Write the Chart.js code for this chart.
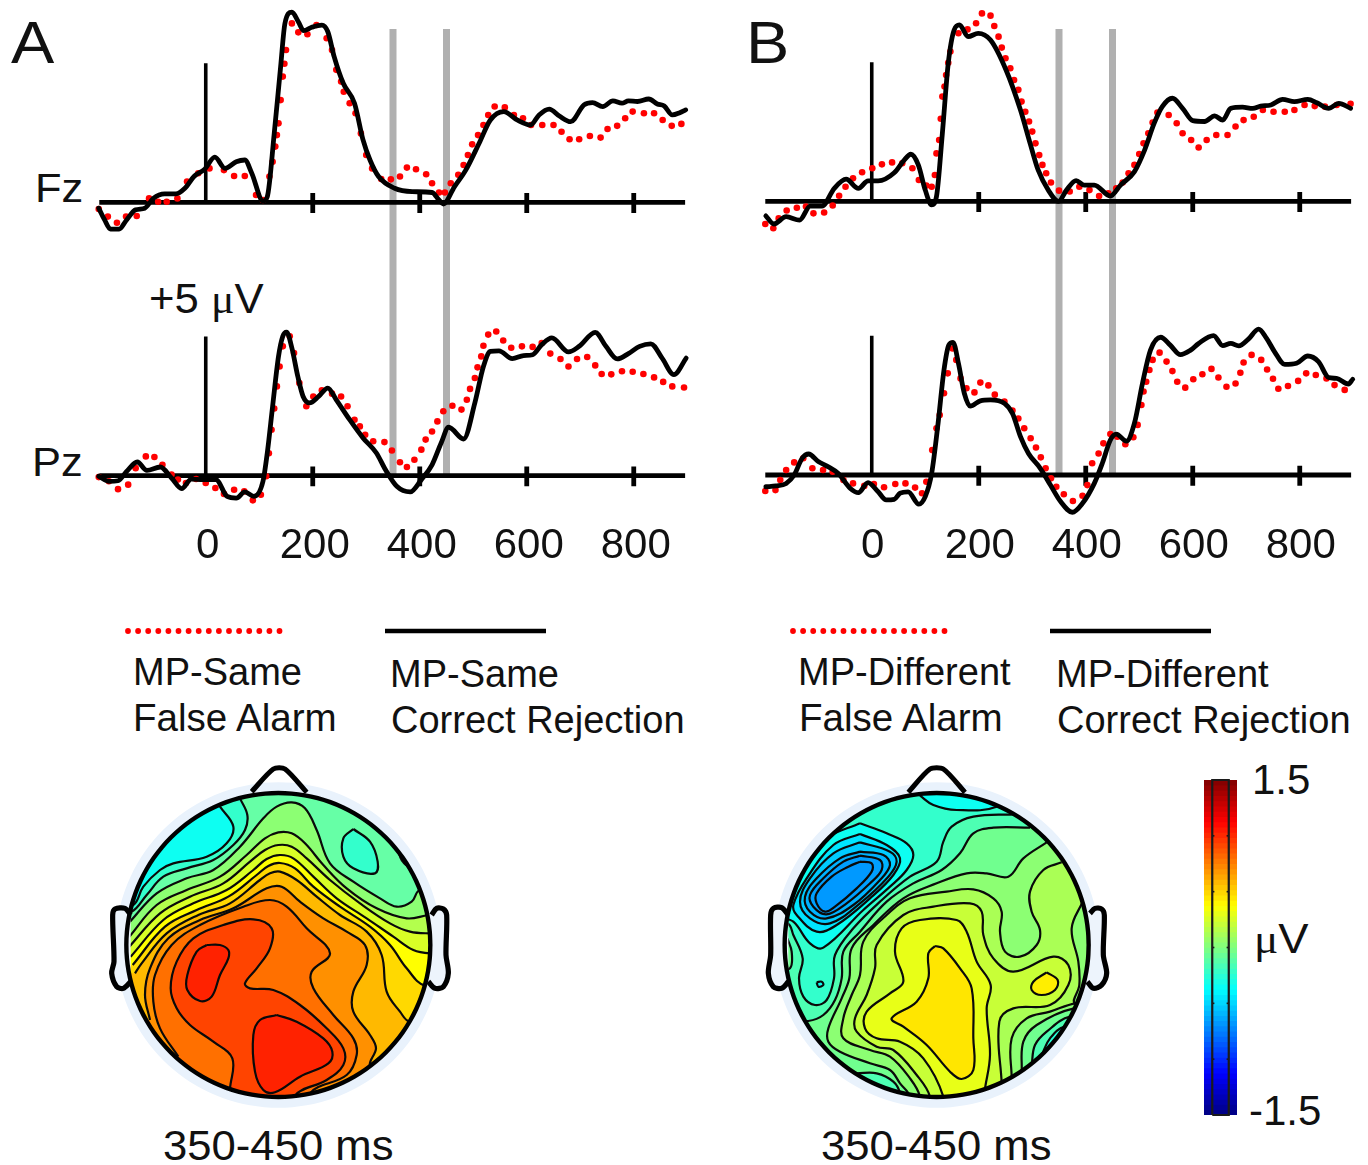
<!DOCTYPE html>
<html>
<head>
<meta charset="utf-8">
<title>ERP and scalp maps</title>
<script src="https://cdn.jsdelivr.net/npm/chart.js@4/dist/chart.umd.js"></script>
<style>
  html, body { margin: 0; background: #fff; }
  #page { position: relative; width: 1368px; height: 1165px; overflow: hidden; font-family: "Liberation Sans", sans-serif; color: #111; }
  canvas { position: absolute; }
  .t { position: absolute; line-height: 1; white-space: nowrap; transform-origin: left center; }
  .mu { font-family: "Liberation Serif", serif; }
</style>
</head>
<body>
<div id="page">
  <div class="t" style="left:11px;top:14px;font-size:59px;transform:scaleX(1.1)">A</div>
  <div class="t" style="left:746px;top:14px;font-size:59px;transform:scaleX(1.1)">B</div>
  <div class="t" style="left:35px;top:168px;font-size:41px;transform:scaleX(1.06)">Fz</div>
  <div class="t" style="left:32px;top:442px;font-size:41px;transform:scaleX(1.06)">Pz</div>
  <div class="t" style="left:149px;top:278px;font-size:42px;transform:scaleX(1.04)">+5 <span class="mu">μ</span>V</div>

  <div class="t" style="left:133px;top:653px;font-size:38px">MP-Same</div>
  <div class="t" style="left:133px;top:699px;font-size:38px;transform:scaleX(1.015)">False Alarm</div>
  <div class="t" style="left:390px;top:655px;font-size:38px">MP-Same</div>
  <div class="t" style="left:391px;top:701px;font-size:38px">Correct Rejection</div>
  <div class="t" style="left:798px;top:653px;font-size:38px">MP-Different</div>
  <div class="t" style="left:799px;top:699px;font-size:38px;transform:scaleX(1.015)">False Alarm</div>
  <div class="t" style="left:1056px;top:655px;font-size:38px">MP-Different</div>
  <div class="t" style="left:1057px;top:701px;font-size:38px">Correct Rejection</div>

  <div class="t" style="left:163px;top:1124px;font-size:43px;transform:scaleX(1.015)">350-450 ms</div>
  <div class="t" style="left:821px;top:1124px;font-size:43px;transform:scaleX(1.015)">350-450 ms</div>
  <div class="t" style="left:1252px;top:759px;font-size:42px">1.5</div>
  <div class="t" style="left:1254px;top:918px;font-size:42px;transform:scaleX(1.08)"><span class="mu">μ</span>V</div>
  <div class="t" style="left:1249px;top:1090px;font-size:42px">-1.5</div>
</div>
<script>
// x axis
const xTicks = [0, 200, 400, 600, 800]
const windowMs = [350, 450]

// Panel A, Fz
const aFzCrT = [-200,-189,-178,-162,-148,-131,-114,-98,-77,-56,-39,-22,-2,17,36,57,73,86,107,115,128,140,148,161,173,183,198,217,228,240,257,278,294,307,323,353,386,423,436,444,465,486,511,532,557,582,607,623,642,661,682,707,723,742,761,778,790,807,828,844,857,872,886,897]
const aFzCrV = [-.21,-.63,-.96,-.96,-.63,-.27,-.21,.14,.30,.30,.50,.92,1.18,1.61,1.21,1.45,1.51,1.04,.05,.20,2.46,4.85,6.39,6.79,6.45,6.13,6.25,6.33,6.10,5.20,4.25,3.54,2.23,1.51,.92,.50,.38,.35,.08,-.06,.56,1.15,2.11,2.94,3.24,2.94,2.76,3.12,3.33,3.08,2.88,3.48,3.56,3.42,3.62,3.54,3.62,3.60,3.69,3.51,3.44,3.12,3.20,3.30]
const aFzFaT = [-200,-183,-166,-149,-129,-106,-89,-73,-53,-35,-14,7,34,53,73,94,107,119,125,130,133,136,140,144,147,150,161,173,190,207,226,236,244,253,258,269,280,290,300,311,328,346,363,376,393,412,423,436,447,458,472,482,490,498,509,519,528,540,559,576,593,608,629,650,665,680,698,718,738,751,769,784,798,819,838,854,871,889]
const aFzFaV = [-.24,-.51,-.73,-.51,-.49,.14,.02,.02,.14,.74,1.04,1.21,1.15,.94,.94,.26,.08,.92,1.45,1.99,2.4,2.82,3.65,4.49,4.95,5.44,6.39,6.07,6.0,6.33,5.86,5.44,4.73,4.31,3.95,3.54,3.18,2.46,1.69,1.21,.83,.82,.92,1.24,1.18,1.0,.68,.35,.35,.68,.98,1.33,1.69,2.07,2.40,2.76,3.12,3.42,3.39,3.12,3.0,2.76,2.76,2.76,2.52,2.25,2.25,2.37,2.31,2.62,2.73,3.0,3.24,3.18,3.18,2.94,2.73,2.80]

// Panel A, Pz
const aPzCrT = [-200,-181,-164,-148,-128,-110,-85,-64,-45,-27,-6,19,40,57,73,90,107,115,125,136,144,151,161,172,182,194,211,228,244,269,294,319,336,357,382,403,423,440,454,482,503,519,532,548,573,594,611,628,647,678,698,728,748,769,790,811,832,853,875,898]
const aPzCrV = [-.02,-.20,-.18,.15,.49,.19,.31,-.08,-.46,-.12,-.14,-.14,-.74,-.80,-.58,-.74,-.20,.81,2.48,4.26,4.98,5.13,4.56,3.55,2.83,2.60,2.83,3.13,2.71,2.0,1.35,.81,.21,-.38,-.58,-.14,.39,1.17,1.73,1.31,2.60,3.90,4.44,4.46,4.18,4.29,4.32,4.68,4.92,4.42,4.62,5.12,4.62,4.17,4.36,4.62,4.71,4.20,3.61,4.20]
const aPzFaT = [-200,-181,-164,-145,-131,-112,-96,-81,-64,-52,-37,-18,0,18,34,53,72,88,103,113,118,123,128,133,138,144,157,165,175,188,201,217,236,253,265,278,288,298,313,334,348,363,376,390,403,411,423,433,444,461,478,488,494,503,508,515,519,528,543,556,571,591,611,628,644,663,678,694,713,728,740,758,778,798,818,838,855,872,894]
const aPzFaV = [-.05,-.2,-.48,-.32,.27,.69,.67,.39,.04,-.14,-.26,-.12,-.26,-.44,-.65,-.5,-.56,-.88,-.68,-.02,.8,1.64,2.4,3.19,3.9,4.62,4.98,4.38,3.31,2.48,2.83,3.05,2.93,2.83,2.48,2.0,1.76,1.46,1.23,1.20,.90,.48,.31,.57,.93,1.29,1.58,1.94,2.30,2.5,2.36,2.71,3.10,3.49,3.87,4.26,4.64,5.04,5.15,4.83,4.57,4.62,4.60,4.74,4.36,4.17,3.90,4.17,4.24,3.94,3.63,3.62,3.73,3.71,3.63,3.51,3.35,3.19,3.15]

// Panel B, Fz
const bFzCrT = [-198,-183,-160,-135,-115,-93,-70,-48,-25,-7,12,42,61,73,87,100,112,121,132,143,154,164,180,199,222,251,278,296,311,330,349,364,382,397,416,446,465,491,510,528,543,562,581,600,622,641,656,671,693,712,727,746,768,790,815,832,854,873,895]
const bFzCrV = [-.52,-.81,-.55,-.67,-.17,-.17,.46,.79,.46,.73,.73,1.02,1.48,1.68,1.30,.40,-.13,.17,2.43,4.93,6.12,6.30,5.88,6.0,5.76,4.69,3.26,2.07,1.12,.40,0,.40,.74,.58,.58,.19,.58,1.06,1.83,2.79,3.38,3.68,3.32,2.88,2.85,3.05,2.90,3.32,3.36,3.32,3.40,3.44,3.64,3.56,3.64,3.52,3.32,3.50,3.32]
const bFzFaT = [-199,-184,-174,-159,-140,-123,-109,-89,-73,-61,-49,-35,-18,1,19,38,57,76,88,102,112,118,121,126,129,132,136,139,143,147,162,179,195,206,222,229,237,243,250,259,266,274,280,287,294,300,306,313,319,326,335,350,370,388,407,425,442,457,469,480,491,500,508,517,525,534,555,570,581,597,611,626,644,665,680,695,714,731,751,772,790,809,828,847,869,895]
const bFzFaV = [-.81,-.96,-.61,-.33,-.23,-.19,-.43,-.40,-.15,.20,.52,.82,1.04,1.18,1.32,1.39,1.36,1.18,.76,.56,.52,.94,1.71,2.19,2.95,3.74,4.1,4.51,4.95,5.35,6.0,6.14,6.36,6.71,6.63,6.26,5.88,5.49,5.11,4.75,4.33,3.98,3.56,3.20,2.85,2.49,2.07,1.65,1.30,1.0,.67,.38,.35,.52,.40,.19,.29,.46,.67,1.0,1.30,1.69,2.07,2.43,2.81,3.17,3.08,2.79,2.43,2.19,1.92,2.19,2.37,2.37,2.67,2.90,3.02,3.26,3.20,3.20,3.26,3.44,3.40,3.38,3.44,3.48]

// Panel B, Pz
const bPzCrT = [-198,-179,-160,-145,-130,-118,-100,-82,-63,-40,-25,-7,12,27,42,53,68,88,100,112,124,135,144,152,162,173,184,203,222,248,263,278,293,315,334,353,375,394,416,431,446,457,476,491,506,521,540,558,577,596,611,639,656,671,686,704,723,738,753,772,794,815,835,854,869,891,899]
const bPzCrV = [-.42,-.39,-.30,0,.60,.75,.48,.30,.06,-.48,-.63,-.27,-.60,-.89,-.87,-.65,-.60,-1.04,-.77,.06,1.85,3.75,4.64,4.74,3.99,2.92,2.46,2.65,2.68,2.56,2.20,1.37,.77,.24,-.36,-.95,-1.33,-1.01,-.30,.42,1.25,1.46,1.21,1.85,3.27,4.46,4.92,4.64,4.30,4.46,4.70,4.98,4.62,4.70,4.61,4.85,5.21,4.88,4.40,3.95,3.99,4.25,4.05,3.48,3.45,3.25,3.42]
const bPzFaT = [-199,-180,-171,-160,-145,-128,-111,-91,-73,-53,-35,-14,4,23,44,63,81,94,102,113,121,127,135,142,151,158,166,177,192,203,218,230,248,263,274,285,297,307,316,325,335,345,359,376,394,403,412,424,433,446,459,474,489,497,504,508,513,519,525,538,551,562,571,586,601,618,635,648,663,680,689,695,710,728,739,750,760,778,797,812,830,850,865,884]
const bPzFaV = [-.57,-.54,-.18,.18,.45,.60,.24,.18,.12,-.18,-.30,-.39,-.32,-.44,-.32,-.30,-.45,-.65,-.24,.89,1.67,2.14,2.92,3.63,4.52,4.11,3.45,3.10,2.95,3.30,3.20,2.87,2.62,2.30,2.02,1.67,1.31,.98,.63,.24,-.12,-.42,-.69,-.93,-.74,-.36,.42,.77,1.13,1.46,1.37,1.10,1.35,1.79,2.50,2.98,3.33,3.75,4.11,4.37,4.05,3.71,3.33,3.12,3.42,3.60,3.79,3.48,3.15,3.27,3.65,4.02,4.29,4.11,3.77,3.44,3.08,3.18,3.36,3.63,3.57,3.45,3.21,3.04]

// Scalp map A: contours in map units, nested from low to high
const mapABase = "#66ffa6"
const aEdge1 = [[90,500],[170,415],[260,370],[340,345],[420,275],[490,190],[530,155],[575,142],[615,160],[650,225],[690,325],[760,380],[840,430],[890,455],[935,440],[960,405],[1100,405],[1100,1100],[-20,1100],[-20,500]]
const aEdge2 = [[88,545],[170,450],[260,405],[360,365],[440,300],[495,250],[535,232],[575,235],[615,265],[670,330],[740,400],[830,460],[920,490],[990,480],[1100,480],[1100,1100],[-20,1100],[-20,545]]
const aEdge3 = [[88,575],[180,475],[270,425],[370,385],[450,320],[495,285],[535,270],[575,275],[620,310],[690,375],[780,445],[870,505],[930,530],[990,535],[1100,535],[1100,1100],[-20,1100],[-20,575]]
const aEdge4 = [[92,605],[190,495],[280,445],[380,405],[460,345],[500,312],[540,300],[580,310],[640,365],[710,430],[800,490],[880,545],[940,585],[990,595],[1100,595],[1100,1100],[-20,1100],[-20,605]]
const aEdge5 = [[98,630],[195,515],[290,465],[385,425],[470,360],[505,333],[540,324],[585,340],[640,395],[720,455],[810,515],[870,570],[920,640],[975,692],[1100,692],[1100,1100],[-20,1100],[-20,630]]
const aEdge6 = [[105,655],[125,625],[200,535],[295,480],[390,445],[480,375],[510,355],[540,350],[590,375],[650,425],[720,480],[800,530],[845,600],[860,710],[900,770],[930,800],[1100,800],[1100,1100],[-20,1100],[-20,655]]
const aEdge7 = [[150,795],[135,720],[150,640],[205,550],[300,495],[400,460],[500,400],[545,395],[600,440],[670,490],[740,530],[795,570],[800,630],[760,710],[760,770],[810,840],[828,880],[810,935],[900,1100],[100,1100],[60,795]]
const aEdge8 = [[235,905],[180,820],[160,740],[165,660],[215,570],[300,510],[430,455],[510,435],[560,455],[620,520],[690,595],[635,650],[640,700],[700,780],[760,850],[770,900],[740,960],[630,1015],[630,1100],[235,1100]]
const aCore = [[390,1000],[397,910],[340,860],[270,810],[230,760],[212,700],[230,620],[280,550],[370,510],[460,493],[515,520],[510,580],[470,640],[435,685],[450,700],[520,705],[600,750],[680,820],[730,880],[730,930],[680,975],[585,1022],[585,1100],[390,1100]]
const aPeak1 = [[320,570],[290,590],[262,660],[262,705],[300,738],[335,725],[360,660],[385,610],[385,585],[360,570],[320,570]]
const aPeak2 = [[530,780],[480,795],[460,840],[465,950],[490,1005],[525,1012],[600,965],[685,925],[697,890],[670,850],[590,800],[530,780]]
const aLow1 = [[420,130],[442,180],[435,225],[400,270],[340,315],[260,340],[190,365],[140,420],[95,470],[40,470],[40,40],[420,40]]
const aLow2 = [[360,155],[400,215],[380,265],[320,305],[220,325],[180,345],[130,395],[100,450],[40,450],[40,40],[360,40]]
const aLow3 = [[760,222],[730,250],[730,305],[760,340],[825,355],[833,320],[810,260],[760,222]]
const aLow4 = [[895,290],[905,315],[925,332],[1000,300],[895,290]]
const mapALevels = [aEdge1,aEdge2,aEdge3,aEdge4,aEdge5,aEdge6,aEdge7,aEdge8,aCore,aPeak1,aPeak2,aLow1,aLow2,aLow3,aLow4]
const mapAColors = ["#8cff73","#b3ff4d","#d9ff26","#ffff00","#ffd900","#ffb900","#ff9000","#ff7000","#ff4400","#ff2200","#ff2200","#33ffcc","#0dfff2","#33ffcc","#33ffcc"]
const aNose = [[455,110],[520,42],[555,42],[620,112]]
const aEarL = [[92,480],[75,460],[45,462],[38,480],[42,620],[35,655],[50,695],[70,700],[92,680]]
const aEarR = [[995,480],[1010,460],[1030,462],[1040,480],[1038,600],[1045,655],[1030,695],[1005,700],[985,680]]

// Scalp map B
const mapBBase = "#33ffcc"
const bTop = [[480,122],[520,150],[590,165],[710,155],[760,100],[480,60]]
const bLev1 = [[760,178],[640,185],[575,215],[550,260],[530,320],[450,365],[360,440],[280,520],[225,600],[222,670],[200,735],[165,750],[130,725],[117,670],[128,610],[100,540],[82,505],[-20,505],[-20,1100],[1100,1100],[1100,178]]
const bLev2 = [[810,218],[700,218],[640,235],[600,295],[545,345],[460,385],[380,440],[300,530],[250,590],[245,670],[225,735],[190,780],[145,798],[60,798],[60,1100],[1100,1100],[1100,218]]
const bLev3 = [[860,262],[790,310],[745,365],[680,355],[620,355],[530,385],[430,430],[340,510],[275,580],[268,670],[245,730],[205,820],[205,860],[240,890],[330,925],[390,945],[420,985],[450,1025],[450,1100],[1100,1100],[1100,262]]
const bLev4 = [[905,322],[850,345],[810,410],[815,470],[840,525],[830,570],[780,605],[735,590],[720,530],[725,470],[700,430],[640,403],[560,410],[450,430],[380,480],[310,560],[300,660],[275,720],[250,790],[250,850],[330,885],[390,905],[450,970],[480,1025],[480,1100],[1100,1100],[1100,322]]
const bRight = [[968,440],[935,520],[955,620],[958,690],[945,745],[1060,745],[1060,440]]
const bLev5 = [[725,985],[718,800],[760,760],[870,750],[925,690],[925,630],[880,605],[760,650],[700,610],[670,540],[665,470],[630,445],[520,455],[430,480],[350,570],[345,640],[320,720],[285,790],[290,830],[350,875],[400,885],[470,960],[510,1025],[510,1100],[725,1100]]
const bLev6 = [[675,1000],[690,900],[680,760],[692,690],[650,620],[620,530],[590,495],[480,495],[425,520],[405,590],[430,680],[390,715],[320,770],[315,820],[350,850],[420,860],[490,910],[550,1025],[550,1100],[675,1100]]
const bPeak = [[525,573],[505,595],[505,670],[470,740],[395,790],[430,815],[500,870],[570,950],[605,972],[640,945],[640,850],[635,700],[600,640],[550,580],[525,573]]
const bSpot = [[860,652],[820,680],[815,705],[845,720],[885,705],[893,675],[860,652]]
const bBr1 = [[755,970],[755,850],[800,790],[870,770],[948,745],[1060,745],[1060,1100],[755,1100]]
const bBr2 = [[785,950],[790,860],[830,810],[942,760],[1060,760],[1060,1100],[785,1100]]
const bBr3 = [[815,930],[825,870],[860,830],[930,785],[1060,785],[1060,1100],[815,1100]]
const bBr4 = [[845,900],[870,850],[915,815],[1060,815],[1060,1000],[845,1000]]
const bCorner = [[290,955],[350,955],[400,980],[420,1015],[420,1060],[280,1060]]
const bSliver = [[82,550],[95,590],[90,640],[50,640],[50,550]]
const bBlob1 = [[300,205],[380,235],[440,265],[460,300],[440,345],[390,395],[310,465],[190,578],[150,565],[100,500],[50,480],[60,400],[130,340],[200,250],[300,205]]
const bBlob2 = [[300,237],[380,270],[420,310],[400,360],[330,430],[230,510],[170,530],[110,480],[100,450],[140,370],[220,270],[300,237]]
const bBlob3 = [[300,262],[390,290],[410,320],[385,365],[300,445],[210,505],[150,490],[120,440],[150,370],[220,295],[300,262]]
const bBlob4 = [[300,290],[370,300],[390,330],[360,375],[280,450],[200,490],[150,470],[135,425],[170,370],[240,310],[300,290]]
const bBlob5 = [[300,302],[360,315],[365,345],[330,385],[260,445],[200,478],[160,455],[150,420],[190,370],[250,320],[300,302]]
const bBlob6 = [[300,320],[335,325],[335,350],[290,400],[225,455],[195,470],[170,445],[170,415],[215,365],[265,335],[300,320]]
const bDot = [[170,682],[185,680],[190,690],[175,695],[170,682]]
const mapBLevels = [bTop,bLev1,bLev2,bLev3,bCorner,bSliver,bLev4,bRight,bLev5,bLev6,bPeak,bSpot,bBr1,bBr2,bBr3,bBr4,bBlob1,bBlob2,bBlob3,bBlob4,bBlob5,bBlob6,bDot]
const mapBColors = ["#0dfff2","#4dffb3","#70ff8f","#8cff73","#4dffb3","#70ff8f","#aaff55","#8cff73","#c8ff37","#e8ff17","#ffe600","#ffee00","#8cff73","#70ff8f","#4dffb3","#26ffd9","#0dfff2","#00e5ff","#00ccff","#00b3ff","#009fff","#0099ff","#0dfff2"]
const bNose = [[445,112],[510,42],[550,42],[615,112]]
const bEarL = [[85,480],[65,458],[40,460],[32,480],[32,600],[25,655],[40,695],[65,700],[85,680]]
const bEarR = [[990,475],[1005,460],[1025,462],[1033,480],[1030,600],[1040,655],[1025,690],[1000,700],[982,680]]

// Colour bar
const barRange = [-1.5, 1.5]
const barTicks = [-1, -0.5, 0, 0.5, 1]
const barBands = 64

const page = document.getElementById("page")
const PX_PER_UV = 28
const PX_PER_MS = 0.535
const PLOT_W = 644
const PLOT_H = 510

function addCanvas(left, top, w, h) {
  const c = document.createElement("canvas")
  c.width = w
  c.height = h
  c.style.left = left + "px"
  c.style.top = top + "px"
  page.appendChild(c)
  return c
}

function pairs(xs, ys) {
  return xs.map((x, i) => ({ x: x, y: ys[i] }))
}

function xy(list) {
  return list.map((p) => ({ x: p[0], y: p[1] }))
}

// keep array order = paint order
function paintOrder(datasets) {
  datasets.forEach((d, i) => { d.order = datasets.length - i })
  return datasets
}

function staticOptions(scales) {
  return {
    responsive: false,
    animation: false,
    events: [],
    layout: { padding: 0, autoPadding: false },
    plugins: { legend: { display: false }, tooltip: { enabled: false } },
    scales: scales,
  }
}

function erpPanel(left, fzBase, pzBase, labelShift, s) {
  const thick = (axis, xs, ys, color, width) => ({
    data: pairs(xs, ys), yAxisID: axis, showLine: true, pointRadius: 0,
    borderColor: color, borderWidth: width, borderCapStyle: "butt", clip: false,
  })
  const curve = (axis, xs, ys) => ({
    data: pairs(xs, ys), yAxisID: axis, showLine: true, pointRadius: 0,
    borderColor: "#000", borderWidth: 4.8, cubicInterpolationMode: "monotone",
    borderJoinStyle: "round", borderCapStyle: "round", clip: false,
  })
  const dots = (axis, xs, ys) => ({
    data: pairs(xs, ys), yAxisID: axis, showLine: false, pointRadius: 3.3,
    pointBackgroundColor: "#ff0000", pointBorderWidth: 0, clip: false,
  })
  const barTop = (fzBase - 29) / PX_PER_UV
  const barBottom = (fzBase - 474) / PX_PER_UV
  const datasets = []
  windowMs.forEach((t) => datasets.push(thick("yFz", [t, t], [barTop, barBottom], "#b0b0b0", 7)))
  ;["yFz", "yPz"].forEach((axis) => {
    datasets.push(thick(axis, [-199, 896], [0, 0], "#000", 4.8))
    datasets.push(thick(axis, [0, 0], [0, 4.97], "#000", 3.6))
    xTicks.slice(1).forEach((t) => datasets.push(thick(axis, [t, t], [0.33, -0.38], "#000", 4.8)))
  })
  datasets.push(dots("yFz", s.fzFaT, s.fzFaV), dots("yPz", s.pzFaT, s.pzFaV))
  datasets.push(curve("yFz", s.fzCrT, s.fzCrV), curve("yPz", s.pzCrT, s.pzCrV))

  new Chart(addCanvas(left, 0, PLOT_W, 580), {
    type: "scatter",
    data: { datasets: paintOrder(datasets) },
    options: staticOptions({
      x: {
        type: "linear", min: -250, max: -250 + PLOT_W / PX_PER_MS,
        grid: { display: false, drawTicks: false }, border: { display: false },
        afterBuildTicks: (scale) => { scale.ticks = xTicks.map((v) => ({ value: v })) },
        afterFit: (scale) => { scale.height = 70 },
        ticks: {
          autoSkip: false, maxRotation: 0, padding: 11, color: "#111", labelOffset: labelShift,
          font: { family: "Liberation Sans", size: 42 },
          callback: (v) => String(v),
        },
      },
      yFz: { display: false, min: (fzBase - PLOT_H) / PX_PER_UV, max: fzBase / PX_PER_UV },
      yPz: { display: false, min: (pzBase - PLOT_H) / PX_PER_UV, max: pzBase / PX_PER_UV },
    }),
  })
}

erpPanel(72, 202.3, 475.7, 2, { fzCrT: aFzCrT, fzCrV: aFzCrV, fzFaT: aFzFaT, fzFaV: aFzFaV, pzCrT: aPzCrT, pzCrV: aPzCrV, pzFaT: aPzFaT, pzFaV: aPzFaV })
erpPanel(738, 201.3, 475, 1, { fzCrT: bFzCrT, fzCrV: bFzCrV, fzFaT: bFzFaT, fzFaV: bFzFaV, pzCrT: bPzCrT, pzCrV: bPzCrV, pzFaT: bPzFaT, pzFaV: bPzFaV })

// line keys under the ERP panels
function lineKey(left) {
  const dotsX = []
  for (let x = 28; x <= 180; x += 10.1) dotsX.push(x)
  new Chart(addCanvas(left, 616, 470, 30), {
    type: "scatter",
    data: {
      datasets: [
        { data: dotsX.map((x) => ({ x: x, y: 0 })), pointRadius: 2.9, pointBackgroundColor: "#ff0000", pointBorderWidth: 0 },
        { data: [{ x: 285, y: 0 }, { x: 446, y: 0 }], showLine: true, pointRadius: 0, borderColor: "#000", borderWidth: 4.5 },
      ],
    },
    options: staticOptions({
      x: { display: false, type: "linear", min: 0, max: 470 },
      y: { display: false, min: -1, max: 1 },
    }),
  })
}
lineKey(100)
lineKey(765)

function ring(cx, cy, r) {
  const out = []
  for (let a = 0; a <= 360; a += 5) {
    const t = a * Math.PI / 180
    out.push({ x: cx + r * Math.cos(t), y: cy + r * Math.sin(t) })
  }
  return out
}

function scalpMap(left, cx, cy, r, base, levels, colors, nose, earL, earR) {
  const datasets = []
  datasets.push({
    data: ring(cx, cy, r + 10), showLine: true, pointRadius: 0, borderWidth: 0,
    backgroundColor: base, fill: "shape",
  })
  levels.forEach((poly, i) => {
    datasets.push({
      data: xy(poly), showLine: true, pointRadius: 0, tension: 0.38, borderColor: "#0a0a0a",
      borderWidth: 2.2, backgroundColor: colors[i], fill: "shape", clip: false,
    })
  })
  // everything after this one is drawn outside the head clip
  datasets.push({
    data: ring(cx, cy, r + 16), showLine: true, pointRadius: 0, tension: 0.4, borderColor: "#e9f2fc",
    borderWidth: 11, endClip: true,
  })
  ;[earL, earR].forEach((ear) => {
    datasets.push({
      data: xy(ear), showLine: true, pointRadius: 0, tension: 0.3, borderColor: "#000", borderWidth: 5.2,
      backgroundColor: "#edf4fc", fill: "shape",
    })
  })
  datasets.push({
    data: xy(nose), showLine: true, pointRadius: 0, tension: 0.25, borderColor: "#000", borderWidth: 5,
  })
  datasets.push({
    data: ring(cx, cy, r), showLine: true, pointRadius: 0, tension: 0.4, borderColor: "#000", borderWidth: 4.4,
  })

  let clipped = false
  const headClip = {
    id: "headClip",
    beforeDatasetsDraw(chart) {
      const sx = chart.scales.x, sy = chart.scales.y
      const ctx = chart.ctx
      ctx.save()
      ctx.beginPath()
      ctx.arc(sx.getPixelForValue(cx), sy.getPixelForValue(cy), Math.abs(sx.getPixelForValue(cx + r) - sx.getPixelForValue(cx)), 0, Math.PI * 2)
      ctx.clip()
      clipped = true
    },
    beforeDatasetDraw(chart, args) {
      if (clipped && chart.data.datasets[args.index].endClip) {
        chart.ctx.restore()
        clipped = false
      }
    },
    afterDatasetsDraw(chart) {
      if (clipped) { chart.ctx.restore(); clipped = false }
    },
  }

  new Chart(addCanvas(left, 755, 360, 360), {
    type: "scatter",
    data: { datasets: paintOrder(datasets) },
    options: staticOptions({
      x: { display: false, type: "linear", min: 0, max: 1080 },
      y: { display: false, min: 0, max: 1080, reverse: true },
    }),
    plugins: [headClip],
  })
}

scalpMap(100, 535, 570, 456, mapABase, mapALevels, mapAColors, aNose, aEarL, aEarR)
scalpMap(760, 530, 570, 456, mapBBase, mapBLevels, mapBColors, bNose, bEarL, bEarR)

// jet colour map for the bar
function jet(f) {
  const c = (d) => Math.round(255 * Math.max(0, Math.min(1, 1.5 - Math.abs(4 * f - d))))
  return "rgb(" + c(3) + "," + c(2) + "," + c(1) + ")"
}

function colourBar() {
  const step = (barRange[1] - barRange[0]) / barBands
  const datasets = []
  for (let i = 0; i < barBands; i++) {
    const lo = barRange[0] + i * step
    datasets.push({
      data: [[lo, lo + step * 1.05]], backgroundColor: jet((i + 0.5) / barBands),
      barPercentage: 1, categoryPercentage: 1, grouped: false,
    })
  }
  const edge = (xs, ys, width) => ({
    type: "scatter", xAxisID: "xk", data: pairs(xs, ys), showLine: true, pointRadius: 0,
    borderColor: "#1a1a1a", borderWidth: width, clip: false,
  })
  barTicks.forEach((v) => {
    datasets.push(edge([0, 0.13], [v, v], 1.6))
    datasets.push(edge([0.87, 1], [v, v], 1.6))
  })
  datasets.push(edge([0, 1, 1, 0, 0], [barRange[0], barRange[0], barRange[1], barRange[1], barRange[0]], 2.2))

  const opts = staticOptions({
    x: { display: false, offset: true },
    xk: { display: false, type: "linear", min: 0, max: 1 },
    y: { display: false, min: barRange[0], max: barRange[1] },
  })
  opts.layout.padding = { left: 4, right: 4, top: 5, bottom: 5 }
  new Chart(addCanvas(1200, 775, 41, 345), {
    type: "bar",
    data: { labels: ["μV"], datasets: paintOrder(datasets) },
    options: opts,
  })
}
colourBar()
</script>
</body>
</html>
